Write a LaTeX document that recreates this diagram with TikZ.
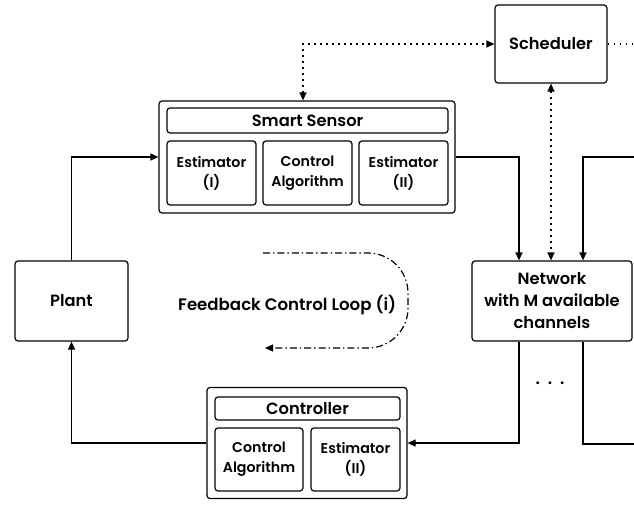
\documentclass[tikz,border=0pt]{standalone}
\usepackage{fontspec}
\IfFontExistsTF{Poppins SemiBold}{\setmainfont{Poppins}[BoldFont={Poppins SemiBold}]}{\setmainfont{Poppins}}
\usetikzlibrary{arrows.meta,calc}
\begin{document}
\begin{tikzpicture}[x=1pt,y=-1pt,
  box/.style={draw,line width=1.2pt,rounded corners=3pt,align=center,inner sep=0pt,
    font=\bfseries\fontsize{16.3}{22}\selectfont},
  subbox/.style={box,font=\bfseries\fontsize{14.2}{20}\selectfont,minimum height=64pt},
  ln/.style={line width=1.2pt},
  conn/.style={ln,-{Triangle[length=8pt,width=7pt]}},
  dotln/.style={ln,dash pattern=on 1.4pt off 4.6pt},
  dotconn/.style={dotln,{Triangle[length=8pt,width=7pt]}-{Triangle[length=8pt,width=7pt]}},
  dashdotconn/.style={ln,dash pattern=on 7pt off 3pt on 1.4pt off 3pt,-{Triangle[length=8pt,width=7pt]},rounded corners=40pt},
  lbl/.style={font=\bfseries\fontsize{16.6}{20}\selectfont,inner sep=0pt}
]
\useasboundingbox (0,0) rectangle (634,504);
% boxes
\node[box,minimum width=112pt,minimum height=78pt] (sched) at (551,44) {Scheduler};
\node[box,minimum width=296pt,minimum height=112pt] (sensor) at (307,157) {};
\node[box,minimum width=281pt,minimum height=25pt] (stitle) at (307.5,120.5) {Smart Sensor};
\node[subbox,minimum width=89pt] (est1) at (211.5,173) {Estimator\\(I)};
\node[subbox,minimum width=89pt] (alg1) at (307.5,173) {Control\\Algorithm};
\node[subbox,minimum width=89pt] (est2) at (403.5,173) {Estimator\\(II)};
\node[box,minimum width=113pt,minimum height=80pt] (plant) at (71.5,301) {Plant};
\node[box,minimum width=160pt,minimum height=80pt] (net) at (552,301) {Network\\with M available\\channels};
\node[box,minimum width=200pt,minimum height=111pt] (ctrl) at (307,443) {};
\node[box,minimum width=185pt,minimum height=23pt] (ctitle) at (307.5,408.5) {Controller};
\node[subbox,minimum width=88pt,minimum height=63pt] (alg2) at (259,459.5) {Control\\Algorithm};
\node[subbox,minimum width=89pt,minimum height=63pt] (est3) at (355.5,459.5) {Estimator\\(II)};
% free ends
\coordinate (inR) at (634,157);
\coordinate (outR) at (634,444);
\coordinate (fbS) at (263,253);
\coordinate (fbE) at (265,348);
% connectors
\draw[conn] (plant.north) |- (sensor.west);
\draw[conn] (ctrl.west) -| (plant.south);
\draw[conn] (sensor.east) -| ($(net.north)+(-33,0)$);
\draw[conn] (inR) -| ($(net.north)+(31,0)$);
\draw[conn] ($(net.south)+(-33,0)$) |- (ctrl.east);
\draw[ln] ($(net.south)+(31,0)$) |- (outR);
\draw[dotconn] ($(sensor.north)+(-4,0)$) |- (sched.west);
\draw[dotln] (sched.east) -- (sched.east -| inR);
\draw[dotconn] (sched.south) -- (sched.south |- net.north);
\draw[dashdotconn] (fbS) -- (408,253) -- (408,348) -- (fbE);
% labels
\node[lbl,anchor=west] (fb) at (178,305) {Feedback Control Loop (i)};
\node[lbl] (dots) at (550,383) {.\hspace{8pt}.\hspace{8pt}.};
\end{tikzpicture}
\end{document}
